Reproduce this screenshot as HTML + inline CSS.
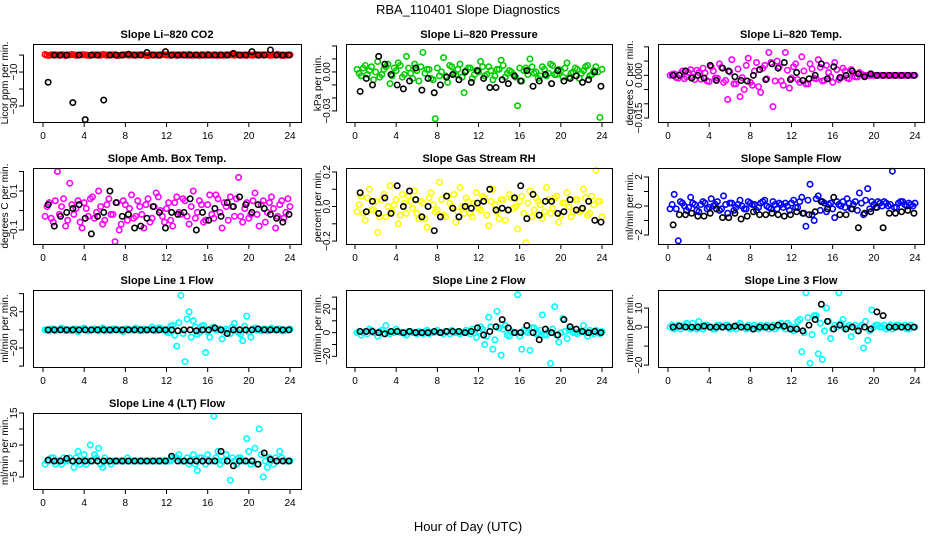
<!DOCTYPE html>
<html><head><meta charset="utf-8"><style>
html,body{margin:0;padding:0;background:#fff;}
svg{display:block;font-family:"Liberation Sans",Arial,sans-serif;}
</style></head><body>
<svg id="c" width="936" height="540" xmlns="http://www.w3.org/2000/svg">
<rect width="936" height="540" fill="#fff"/>
<text x="468" y="14" text-anchor="middle" font-size="13">RBA_110401  Slope Diagnostics</text>
<text x="468" y="531" text-anchor="middle" font-size="13">Hour of Day (UTC)</text>
</svg>
<script>
// shared x positions (hours)
const colorHourStart = 0.2, colorHourStep = 0.4;
const color2HourStart = 0.4;
const blackHourStart = 0.5, blackHourStep = 0.6;
const xTicks = [0,4,8,12,16,20,24];

// panel data (values in panel units)
const co2Color = [0.3,-0.2,0.1,0,0.2,-0.3,0,0.1,-0.1,0.2,0,-0.2,0.1,0,0.3,-0.1,0,0.2,-0.2,0.1,0,0.1,-0.1,0,0.2,-0.3,0.1,0,-0.1,0.2,0,0.1,-0.2,0,0.1,0.3,-0.1,0,0.2,-0.1,0,0.1,-0.2,0,0.1,0.2,-0.1,0,0.1,-0.2,0,0.3,-0.1,0,0.2,-0.1,0,0.1,-0.2,0];
const co2Color2 = [-0.1,0.2,0,-0.2,0.1,0,0.3,-0.1,0,0.2,-0.2,0.1,0,-0.1,0.2,0,0.1,-0.3,0,0.2,-0.1,0,0.1,0.2,-0.2,0,0.1,-0.1,0.3,0,-0.2,0.1,0,0.2,-0.1,0,0.1,-0.2,0,0.3,-0.1,0,0.2,-0.1,0,0.1,0.2,-0.2,0,0.1,-0.1,0,0.2,0.1,-0.1,0,0.3,-0.2,0,0.1];
const co2Black = [-16,0,0,0,-28,0,-38,0,0,-26.5,0,0,0,0.5,0,0,1.5,0,0,2,0,0,0,0,0,0,0,0,0,0,1,0,0,2,0,0,3,0,0,0];
const presColor = [2,-3,5,1,-6,8,-2,4,-9,3,7,-4,12,-1,6,-7,15,2,-5,-36,-3,11,-8,4,-2,6,-16,3,-5,1,8,-3,4,-6,2,9,-4,1,-2,-26,-7,3,10,-1,-5,4,-3,6,-2,2,-4,7,-1,3,-5,1,5,-2,4,-35];
const presColor2 = [-1,3,-2,4,0,-4,2,6,-3,1,5,-2,3,-5,1,4,-1,2,-6,3,0,-3,5,-1,2,-4,1,3,-2,0,4,-2,1,-3,2,5,-1,0,-4,3,1,-2,4,0,-3,2,-1,5,-2,1,3,-4,0,2,-1,4,-3,1,0,2];
const presBlack = [-15,-5,-10,12,6,-2,-10,-13,-7,3,-14,-5,-16,-10,-4,-2,-6,0,-8,1,-5,-12,-12,-6,-9,-3,-7,1,-11,-7,-2,-9,1,-7,-5,-3,-8,-6,0,-11];
const tempColor = [0,5,-10,15,-5,20,-15,10,25,-20,30,-10,40,-25,-85,55,-30,-75,-50,60,-35,45,-60,35,80,-110,50,-20,80,-45,30,-15,65,-30,40,-10,55,-20,35,-5,45,-15,25,-10,20,-5,10,0,0,0,0,0,0,0,0,0,0,0,0,0];
const tempColor2 = [3,-8,6,-12,10,-6,18,-14,8,-22,15,-10,28,-18,12,-30,22,-8,35,-25,15,-40,25,-12,45,-20,30,-35,18,-10,40,-25,15,-30,22,-12,28,-18,10,-25,20,-8,15,-12,8,-6,4,0,0,0,0,0,0,0,0,0,0,0,0,0];
const tempBlack = [0,0,15,-10,0,-10,35,-18,25,15,-5,-18,-20,0,20,-15,40,25,45,-15,10,-18,-12,0,40,-12,30,-8,0,15,5,-5,5,0,0,0,0,0,0,0];
const ambColor = [-3,4,-6,20,2,-8,14,-2,5,-9,1,6,-4,10,-7,3,-2,-16,-10,5,-5,8,-3,2,-9,6,-4,9,0,-6,4,-8,7,-2,5,-7,10,-1,3,-5,8,-4,6,-9,2,7,-3,17,-6,4,-2,9,-8,5,-1,7,-9,3,-4,6];
const ambColor2 = [2,-4,5,-2,6,-5,3,1,-6,4,-3,7,-1,2,-5,6,-2,4,-7,3,1,-4,5,-2,3,-6,2,7,-3,1,-5,4,-1,6,-3,2,-4,5,-6,3,-2,8,-1,4,-5,2,6,-3,1,-4,5,-2,3,-6,4,1,-3,5,-1,2];
const ambBlack = [3,-8,-3,-1,1,3,-4,-12,-3,-1,10,4,-3,-2,-9,-8,-4,2,-1,-9,-1,-2,-1,6,-10,-1,-5,1,-3,4,2,7,3,-1,3,1,-2,-4,-6,-2];
const rhColor = [-3,6,-8,10,-2,-15,4,-6,12,1,-10,7,-4,3,9,-7,2,-12,8,-3,14,-5,6,0,-9,11,-4,3,-6,8,-2,5,-11,10,-3,4,-8,7,-1,-13,6,-21,9,-2,3,-7,11,-4,5,-9,2,8,-6,4,-3,10,-5,6,21,3];
const rhColor2 = [1,-4,5,-2,3,-6,7,0,-3,4,-5,2,6,-1,-4,3,-7,5,1,-2,4,-6,2,7,-3,0,5,-4,2,-1,6,-5,3,1,-7,4,-2,5,0,3,-4,2,-6,5,1,-3,4,-1,6,-5,2,0,-3,4,-2,5,-4,1,3,-6];
const rhBlack = [8,-3,3,-4,5,-4,12,0,9,4,-6,0,-14,-6,6,-1,-6,0,-1,2,3,10,-2,-1,-2,5,12,-7,7,-5,3,3,-4,-3,4,-2,-1,3,-8,-9];
const flowColor = [-0.2,0.8,-2.4,0.2,-0.3,0.6,0.1,-0.4,0.3,-0.2,0.5,0.1,-0.3,0.7,-0.5,0.2,-0.1,0.4,-0.2,0.3,0.1,-0.3,0.2,0.4,-0.1,0.3,-0.2,0.1,0.2,-0.3,0.4,-0.1,0.6,-1.4,1.5,-1,0.7,0.3,-0.4,0.2,-0.8,0.1,0.3,0.5,-0.2,0.3,0.9,-0.6,1.2,0.3,-0.1,0.2,0.3,0,2.4,-0.1,0.3,0.1,0.2,0];
const flowColor2 = [0.1,-0.2,0.3,0,-0.1,0.2,-0.3,0.1,0.2,-0.1,0,0.3,-0.2,0.1,0.2,-0.3,0.1,0,-0.2,0.2,0.1,-0.1,0.3,0,-0.2,0.1,0.2,-0.1,0,0.2,-0.1,0.3,-0.5,0.4,-0.6,0.5,-0.3,0.2,0.1,-0.2,0.3,0,-0.1,0.2,0.1,-0.3,0.2,0.4,-0.2,0.1,0.3,0,0.2,0.1,-0.1,0.2,0.3,0,0.1,0.2];
const flowBlack = [-1.3,-0.6,-0.6,-0.5,-0.7,-0.7,-0.5,-0.2,-0.8,-0.8,-0.5,-0.9,-0.7,-0.4,-0.6,-0.6,-0.5,-0.6,-0.7,-0.6,-0.4,-0.5,-0.6,-0.4,0.3,-0.2,0.6,-0.6,-0.6,-0.2,-1.5,-0.5,-0.4,-0.1,-1.5,-0.5,-0.5,-0.4,-0.3,-0.5];
const line1Color = [0,-1,1,0,2,-1,0,1,-2,1,0,0,1,-1,2,0,-1,1,0,-2,1,0,2,-1,1,0,3,-1,2,0,-3,5,-18,38,-35,20,10,-5,4,-25,-8,3,0,-10,1,-4,7,-3,-12,15,-8,2,0,1,-1,2,0,1,-1,0];
const line1Color2 = [0,1,-1,0,1,0,-1,1,0,2,-1,0,0,1,-1,0,1,0,-1,1,0,0,1,-1,0,1,-1,2,0,-2,4,-6,8,-4,12,-8,3,-3,5,-2,2,0,1,-2,0,3,-1,-5,4,-2,1,0,-1,1,0,0,1,-1,0,1];
const line1Black = [0,0,0,0,0,0,0,0,0,0,0,0,0,0,0,0,0,0,0,0,0,-1,0,0,-1,0,0,2,0,-4,0,0,0,0,1,0,0,0,0,0];
const line2Color = [0,-2,1,3,0,-3,2,6,-1,0,1,0,-2,1,0,1,-1,2,0,1,0,-1,1,2,0,-1,0,1,3,-4,5,-10,13,-14,18,-19,6,-3,0,32,-14,1,-15,4,0,15,-2,-26,22,-8,12,-5,3,0,1,6,-3,0,2,-1];
const line2Color2 = [1,0,-1,2,0,1,-1,0,1,3,0,-1,1,0,-1,0,1,-1,0,2,0,1,-1,0,1,0,2,-1,0,1,3,-3,5,-6,4,3,-2,1,0,-3,2,0,4,-1,2,-2,1,3,-2,0,1,2,0,-1,1,0,2,-1,0,1];
const line2Black = [1,1,1,0,-1,1,1,0,1,0,0,0,1,0,1,1,1,0,1,4,-2,1,5,11,4,0,0,6,0,-6,3,0,-2,11,5,3,1,0,1,0];
const line3Color = [0,-1,1,0,2,-1,0,3,-1,1,0,-1,1,0,1,0,-1,2,0,1,-1,0,1,0,-1,1,0,2,-1,1,-2,3,-13,18,-19,6,-14,-17,10,-6,1,18,4,0,-5,1,0,-11,-7,9,1,0,1,0,-1,1,0,1,-1,0];
const line3Color2 = [1,0,-1,1,0,2,-1,0,1,0,-1,1,0,1,-1,0,1,0,-1,0,1,-1,0,1,0,-1,1,0,2,-1,0,4,-3,5,-4,6,2,-2,3,-1,0,2,-1,1,0,-2,1,3,-2,0,1,0,-1,1,0,1,0,-1,1,0];
const line3Black = [0,0.5,0,0,0,0.5,0,0,0,0,0.5,0,0,-1,0,0,0,1,0.5,-1,-1,-2,1,4,12,3,-1,1,-1,0,-2,0,-1,8,6,0,0,0,0,0];
const line4Color = [-1,0,1,0,-1,0,1,-2,3,0,-1,5,2,4,-2,0,-1,0,0,0,1,0,0,0,0,0,0,0,0,0,0,1,1,0,0,-1,2,-3,1,-1,0,14,3,0,2,-6,0,1,0,7,-1,4,10,-5,-2,0,1,3,0,0];
const line4Color2 = [0,1,-1,0,1,0,0,1,-1,2,0,0,1,-1,1,0,0,0,0,0,0,0,0,0,0,0,0,0,0,0,0,1,2,0,1,0,-1,1,0,2,0,1,-1,0,0,1,-1,1,0,3,0,-1,2,0,1,-1,0,1,0,0];
const line4Black = [0.3,0,0,0.8,0,0,0,0,0,0,0,0,0,0,0,0,0,0,0,0,1.5,0,0,0,0,0,0,0,3,0,-1.5,0,0,0,-1,2.5,0.5,0,0,0];

const panels = [
 {name:'co2',title:'Slope Li\u2013820 CO2',ylab:'Licor ppm per min.',col:0,row:0,color:'#ff0000',dom:[-39.4,6.5],ticks:[0,-10,-20,-30],labels:{'-10':'\u221210','-30':'\u221230'},c:co2Color,c2:co2Color2,b:co2Black},
 {name:'pressure',title:'Slope Li\u2013820 Pressure',ylab:'kPa per min.',col:1,row:0,color:'#00cd00',dom:[-38.5,21.5],ticks:[20,10,0,-10,-20,-30],labels:{'0':'0.00','-30':'\u22120.03'},c:presColor,c2:presColor2,b:presBlack},
 {name:'temp',title:'Slope Li\u2013820 Temp.',ylab:'degrees C per min.',col:2,row:0,color:'#ff00ff',dom:[-164,110],ticks:[100,50,0,-50,-100,-150],labels:{'0':'0.000','-150':'\u22120.015'},c:tempColor,c2:tempColor2,b:tempBlack},
 {name:'amb-box-temp',title:'Slope Amb. Box Temp.',ylab:'degrees C per min.',col:0,row:1,color:'#ff00ff',dom:[-17.2,21.8],ticks:[20,10,0,-10],labels:{'10':'0.1','-10':'\u22120.1'},c:ambColor,c2:ambColor2,b:ambBlack},
 {name:'gas-rh',title:'Slope Gas Stream RH',ylab:'percent per min.',col:1,row:1,color:'#ffff00',dom:[-21.7,22.3],ticks:[20,10,0,-10,-20],labels:{'20':'0.2','0':'0.0','-20':'\u22120.2'},c:rhColor,c2:rhColor2,b:rhBlack},
 {name:'sample-flow',title:'Slope Sample Flow',ylab:'ml/min per min.',col:2,row:1,color:'#0000ff',dom:[-2.62,2.62],ticks:[2,1,0,-1,-2],labels:{'2':'2','0':'0','-2':'\u22122'},c:flowColor,c2:flowColor2,b:flowBlack},
 {name:'line1-flow',title:'Slope Line 1 Flow',ylab:'ml/min per min.',col:0,row:2,color:'#00ffff',dom:[-41,44],ticks:[40,20,0,-20,-40],labels:{'20':'20','-20':'\u221220'},c:line1Color,c2:line1Color2,b:line1Black},
 {name:'line2-flow',title:'Slope Line 2 Flow',ylab:'ml/min per min.',col:1,row:2,color:'#00ffff',dom:[-29,36],ticks:[30,20,10,0,-10,-20],labels:{'20':'20','0':'0','-20':'\u221220'},c:line2Color,c2:line2Color2,b:line2Black},
 {name:'line3-flow',title:'Slope Line 3 Flow',ylab:'ml/min per min.',col:2,row:2,color:'#00ffff',dom:[-21,19.5],ticks:[10,0,-10,-20],labels:{'10':'10','0':'0','-20':'\u221220'},c:line3Color,c2:line3Color2,b:line3Black},
 {name:'line4-flow',title:'Slope Line 4 (LT) Flow',ylab:'ml/min per min.',col:0,row:3,color:'#00ffff',dom:[-8.75,15],ticks:[15,10,5,0,-5],labels:{'15':'15','5':'5','-5':'\u22125'},c:line4Color,c2:line4Color2,b:line4Black}
];
const colBox = [[33,301,43,290],[346,612,355,602],[658,924,668,915]];
const rowBox = [[44,122],[168,244],[290,367],[413,489]];

const NS='http://www.w3.org/2000/svg';
const svg=document.getElementById('c');
function mk(tag,attrs,parent){const e=document.createElementNS(NS,tag);for(const k in attrs)e.setAttribute(k,attrs[k]);(parent||svg).appendChild(e);return e;}

panels.forEach(p=>{
  const [bx0,bx1,x0,x24]=colBox[p.col];
  const [by0,by1]=rowBox[p.row];
  const g=mk('g',{});
  
  
  const xs=h=>x0+(x24-x0)*h/24;
  const ys=v=>by1-(v-p.dom[0])/(p.dom[1]-p.dom[0])*(by1-by0);
  const t=mk('text',{x:(bx0+bx1)/2,y:by0-6,'text-anchor':'middle','font-size':'11','font-weight':'bold'},g);
  t.textContent=p.title;
  
  
  const yl=mk('text',{x:0,y:0,'text-anchor':'middle','font-size':'10',transform:`translate(${bx0-25},${(by0+by1)/2}) rotate(-90)`},g);
  yl.textContent=p.ylab;
  
  
  mk('line',{x1:x0,x2:x24,y1:by1+0.5,y2:by1+0.5,stroke:'#000','stroke-width':1},g);
  xTicks.forEach(h=>{
    const x=xs(h);
    mk('line',{x1:x,x2:x,y1:by1,y2:by1+5,stroke:'#000'},g);
    const tl=mk('text',{x:x,y:by1+17,'text-anchor':'middle','font-size':'10'},g);
    tl.textContent=h;
    
    
  });
  const yt=p.ticks.filter(v=>v>=p.dom[0]-0.01&&v<=p.dom[1]+0.01);
  mk('line',{x1:bx0-9.5,x2:bx0-9.5,y1:ys(Math.max(...yt)),y2:ys(Math.min(...yt)),stroke:'#000'},g);
  yt.forEach(v=>{
    const y=ys(v);
    mk('line',{x1:bx0-14,x2:bx0-9,y1:y,y2:y,stroke:'#000'},g);
    const lab=p.labels[String(v)];
    if(lab){
      const tl=mk('text',{x:0,y:0,'text-anchor':'middle','font-size':'10',transform:`translate(${bx0-16},${y}) rotate(-90)`},g);
      tl.textContent=lab;
      
      
    }
  });
  p.c.forEach((v,i)=>{
    const pt=mk('circle',{cx:xs(colorHourStart+colorHourStep*i),cy:ys(v),r:2.7,fill:'none',stroke:p.color,'stroke-width':1.6},g);
    
    
  });
  p.c2.forEach((v,i)=>{
    const h=color2HourStart+colorHourStep*i; if(h>24)return;
    const pt=mk('circle',{cx:xs(h),cy:ys(v),r:2.7,fill:'none',stroke:p.color,'stroke-width':1.6},g);
    
    
  });
  p.b.forEach((v,i)=>{
    const h=blackHourStart+blackHourStep*i; if(h>24)return;
    const pt=mk('circle',{cx:xs(h),cy:ys(v),r:2.7,fill:'none',stroke:'#000','stroke-width':1.6},g);
    
    
  });
  const box=mk('rect',{x:bx0+0.5,y:by0+0.5,width:bx1-bx0,height:by1-by0,fill:'none',stroke:'#000','stroke-width':1},g);
  
  
});
</script>
</body></html>
